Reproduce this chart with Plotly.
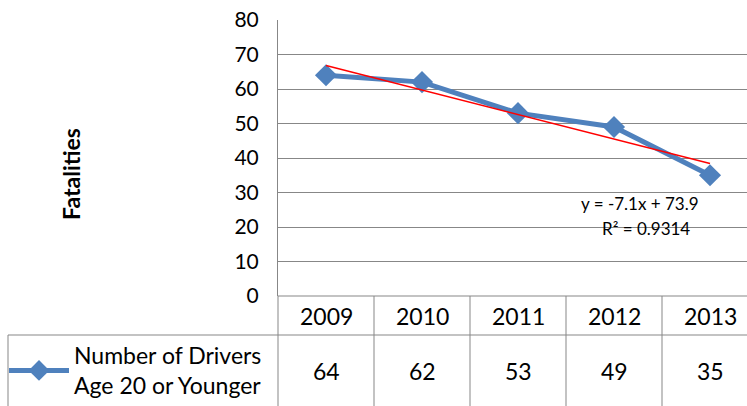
import numpy as np
import plotly.graph_objects as go

years = ["2009", "2010", "2011", "2012", "2013"]
fatalities = [64, 62, 53, 49, 35]
series_name = "Number of Drivers<br>Age 20 or Younger"
y_ticks = [0, 10, 20, 30, 40, 50, 60, 70, 80]
equation_text = "y = -7.1x + 73.9"
r2_text = "R² = 0.9314"

W, H = 747, 406
L, R, T, B = 278, 0, 20, 110
plot_w = W - L - R
plot_h = H - T - B
cat_w = 96
xr = [-0.5, -0.5 + plot_w / cat_w]

def px_x(p):
    return (p - L) / plot_w

def px_y(p):
    return (T + plot_h - p) / plot_h

def cat_paper(v):
    return (v - xr[0]) / (xr[1] - xr[0])

xs = np.arange(len(years))
# Excel linear trendline (x = 1..n)
coef = np.polyfit(xs + 1, fatalities, 1)
trend = np.polyval(coef, xs + 1)

FONT = "Lato, Carlito, Calibri, sans-serif"
GRID = "#878787"
TBL = 23

fig = go.Figure()
fig.add_trace(go.Scatter(
    x=xs, y=fatalities, mode="lines+markers", name=series_name,
    line=dict(color="#4F81BD", width=5),
    marker=dict(symbol="diamond", size=17, color="#4F81BD"),
    showlegend=True,
))
fig.add_trace(go.Scatter(
    x=[xs[0], xs[-1]], y=[trend[0], trend[-1]], mode="lines",
    line=dict(color="#FF0000", width=1.5), showlegend=False, hoverinfo="skip",
))

shapes = []
line = dict(color=GRID, width=1)
shapes.append(dict(type="line", xref="paper", yref="paper", x0=0, x1=1,
                   y0=0, y1=0, line=line))
row_sep = px_y(335)
shapes.append(dict(type="line", xref="paper", yref="paper", x0=px_x(8), x1=1,
                   y0=row_sep, y1=row_sep, line=line))
shapes.append(dict(type="line", xref="paper", yref="paper", x0=px_x(8), x1=px_x(8),
                   y0=row_sep, y1=px_y(H), line=line))
for i in range(len(years) + 1):
    xp = cat_paper(i - 0.5)
    if xp <= 1:
        shapes.append(dict(type="line", xref="paper", yref="paper", x0=xp, x1=xp,
                           y0=0, y1=px_y(H), line=line))

def ann(x, y, text, size, xref="paper", **kw):
    d = dict(x=x, xref=xref, y=y, yref="paper", text=text, showarrow=False,
             xanchor="center", yanchor="middle",
             font=dict(size=size, color="black", family=FONT))
    d.update(kw)
    return d

annotations = []
for i, (yr, v) in enumerate(zip(years, fatalities)):
    annotations.append(ann(i, px_y(316), yr, TBL, xref="x"))
    annotations.append(ann(i, px_y(371), str(v), TBL, xref="x"))
annotations.append(ann(px_x(71), px_y(174), "<b>Fatalities</b>", 23, textangle=-90))
annotations.append(ann(px_x(640), px_y(203), equation_text, 17))
annotations.append(ann(px_x(646), px_y(228), r2_text, 17))

fig.update_layout(
    width=W, height=H,
    margin=dict(l=L, r=R, t=T, b=B, pad=0, autoexpand=False),
    paper_bgcolor="white", plot_bgcolor="white",
    font=dict(family=FONT, color="black"),
    xaxis=dict(range=xr, showgrid=False, showticklabels=False, zeroline=False,
               showline=False, ticks=""),
    yaxis=dict(range=[0, 80], tickvals=y_ticks, showgrid=True, gridcolor=GRID, gridwidth=1,
               zeroline=False, showline=True, linecolor=GRID, linewidth=1, ticks="",
               tickfont=dict(size=21, color="black", family=FONT), ticklabelstandoff=14),
    legend=dict(x=px_x(4), y=px_y(334), xanchor="left", yanchor="top",
                font=dict(size=TBL, color="black", family=FONT), bgcolor="rgba(0,0,0,0)",
                itemwidth=60, tracegroupgap=0),
    shapes=shapes, annotations=annotations,
)

fig.write_html("out.html", config={"displayModeBar": False},
               post_script="document.body.style.margin='0';")
